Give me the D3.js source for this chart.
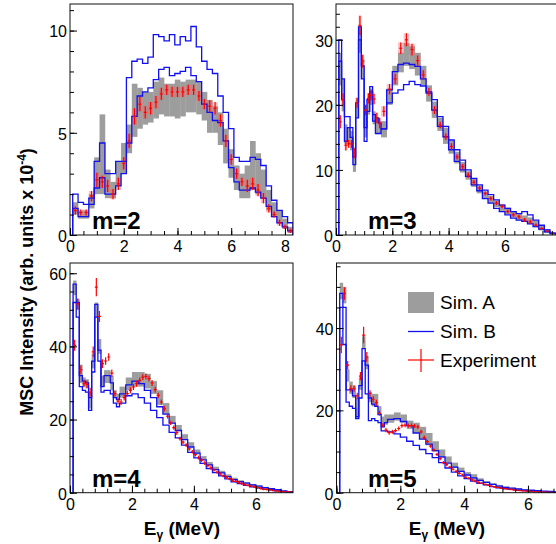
<!DOCTYPE html>
<html>
<head>
<meta charset="utf-8">
<script src="https://cdn.jsdelivr.net/npm/d3@7"></script>
<style>
  body { margin: 0; background: #fff; }
  svg { display: block; font-family: "Liberation Sans", Arial, Helvetica, sans-serif; }
</style>
</head>
<body>
<div id="chart"></div>
<script>
// ---- labels ----
const panelLabels = ["m=2", "m=3", "m=4", "m=5"];
const legendLabels = ["Sim. A", "Sim. B", "Experiment"];
const yTitleText = "MSC Intensity (arb. units x 10";
const yTitleExp = "-4";

// ---- tick labels ----
const xTicksM2 = [0, 2, 4, 6, 8];
const xTicksM3 = [0, 2, 4, 6];
const xTicksM4 = [0, 2, 4, 6];
const xTicksM5 = [0, 2, 4, 6];
const yTicksM2 = [0, 5, 10];
const yTicksM3 = [0, 10, 20, 30];
const yTicksM4 = [0, 20, 40, 60];
const yTicksM5 = [0, 20, 40];

// ---- bin edges (MeV) ----
const edgesM2 = [0.1,0.3,0.5,0.7,0.9,1.1,1.3,1.5,1.7,1.9,2.1,2.3,2.5,2.7,2.9,3.1,3.3,3.5,3.7,3.9,4.1,
  4.3,4.5,4.7,4.9,5.1,5.3,5.5,5.7,5.9,6.1,6.3,6.5,6.7,6.9,7.1,7.3,7.5,7.7,7.9,8.1,8.3];
const lowEdges = [0.1,0.2,0.3,0.4,0.5,0.6,0.7,0.8,0.9,1.0,1.1,1.2,1.3,1.4,1.5];
const tailEdges = [1.6,1.8,2.0,2.2,2.4,2.6,2.8,3.0,3.2,3.4,3.6,3.8,4.0,4.2,4.4,4.6,4.8,5.0,5.2,5.4,
  5.6,5.8,6.0,6.2,6.4,6.6,6.8,7.0,7.2,7.4,7.6,7.8];
const edgesM3 = lowEdges.concat(tailEdges);
const edgesM4 = lowEdges.concat(tailEdges.slice(0, 29));
const edgesM5 = lowEdges.concat(tailEdges.slice(0, 28));

// ---- m=2 ----
const simALoM2 = [1.0,0.8,0.8,1.3,2.0,2.0,1.8,1.8,2.4,3.0,4.0,4.8,5.2,5.4,5.5,5.7,5.9,5.8,5.8,5.7,
  5.8,6.0,6.0,5.9,5.6,5.0,5.0,4.4,3.5,2.8,2.2,1.8,1.8,2.2,2.0,1.8,1.2,0.9,0.6,0.3,0.1];
const simAHiM2 = [1.6,1.2,1.2,2.0,3.8,5.9,3.2,2.6,3.6,4.5,5.4,7.4,7.2,7.0,7.0,7.5,7.7,7.4,7.4,7.6,
  7.5,7.6,7.6,7.5,7.0,6.6,6.3,6.0,5.2,4.2,3.4,3.0,3.4,4.6,4.0,3.2,2.2,1.6,1.2,0.8,0.4];
const simB1M2 = [2.0,1.6,1.5,1.8,3.6,4.5,3.0,3.0,3.6,3.6,7.7,8.5,8.6,8.4,8.7,9.8,9.7,9.5,9.8,9.3,
  9.7,9.5,10.2,9.2,8.5,8.1,7.9,6.8,6.0,5.2,3.8,3.6,3.6,3.8,3.7,3.4,2.4,1.7,1.2,0.9,0.6];
const simB2M2 = [1.3,0.9,0.9,1.5,2.3,2.8,2.0,2.0,2.4,3.0,4.5,5.8,6.8,7.0,7.2,7.6,8.1,8.2,7.8,7.9,
  8.0,8.2,7.8,7.5,6.4,6.0,5.6,5.5,4.6,3.3,2.6,2.2,2.2,2.3,2.1,1.8,1.4,0.9,0.6,0.4,0.2];
const expM2 = [1.2,1.1,1.1,1.9,2.7,2.6,2.4,2.0,2.5,3.5,4.6,5.8,6.4,6.0,6.2,6.5,6.9,7.1,7.0,7.0,
  7.0,7.1,7.1,6.8,6.4,6.3,6.2,5.6,4.6,3.7,3.0,2.6,2.4,2.5,2.2,1.8,1.3,1.0,0.6,0.4,0.2];
const errM2 = [0.2,0.15,0.15,0.25,0.35,0.3,0.3,0.25,0.3,0.3,0.35,0.4,0.35,0.3,0.3,0.3,0.3,0.25,0.25,0.25,
  0.25,0.25,0.25,0.25,0.25,0.3,0.3,0.3,0.3,0.25,0.25,0.2,0.3,0.3,0.3,0.25,0.2,0.15,0.15,0.1,0.1];

// ---- m=3 ----
const simALoM3 = [23,19,14,14,13,9.7,18,28,24,15,18.5,20,17,15.5,15.5,
  15,20,23,25,26,25.5,24.5,23,20.5,18,16,14,12.5,11,9.6,8.5,7.4,6.4,5.6,4.9,4.3,3.7,3.2,2.7,2.3,2.0,1.7,1.2,0.7,0.3,0.1];
const simAHiM3 = [28,24,17,16.5,16,12,21,32,27,20,21,22.5,19,18,17.5,
  17.5,22.5,26,28,29.5,29,28,26,23,20.5,18,16.5,14.5,12.8,11.2,9.8,8.6,7.6,6.7,6.0,5.3,4.7,4.2,3.6,3.2,3.0,2.7,2.2,1.5,0.9,0.4];
const simB1M3 = [30,20.8,14.4,16.5,15.0,10.8,20.3,32,26,14.4,20.8,22.8,18.5,15.6,15.6,
  16.3,22.3,25.1,26.2,26.4,26.2,25.9,24.0,21.8,19.2,16.7,15.1,13.1,11.3,10.0,9.0,7.7,6.8,5.6,4.9,4.1,3.6,3.1,2.6,2.3,2.1,1.7,1.3,0.9,0.5,0.2];
const simB2M3 = [26.7,24,18.2,18.2,16.5,12.0,18,30,24,16.5,19,22.0,17.5,18.0,17.2,
  16.3,20.3,21.8,22.3,23.1,23.6,23.1,22.9,22.0,20.8,18.2,16.7,14.6,13.1,11.5,10.0,8.7,7.7,6.9,6.2,5.4,4.6,4.1,3.6,3.3,3.6,3.1,2.3,1.5,0.8,0.3];
const expM3 = [17.4,20.8,13.8,14.0,14.0,12.6,20.3,32.2,26.7,19.2,21.0,21.5,20.9,18.0,17.2,
  19.0,22.4,24.0,28.7,30.0,28.5,26.8,24.6,22.0,19.2,16.9,15.1,13.6,12.0,10.5,9.2,8.1,7.2,6.4,5.6,4.9,4.4,3.6,3.1,2.8,2.3,2.0,1.5,1.0,0.6,0.3];
const errM3 = [1.0,1.0,0.8,0.6,0.6,0.8,0.8,1.5,1.0,0.8,0.8,0.8,0.8,0.8,0.8,
  0.8,0.8,0.8,0.9,1.0,0.9,0.8,0.7,0.6,0.6,0.5,0.5,0.5,0.4,0.4,0.4,0.4,0.3,0.3,0.3,0.3,0.3,0.3,0.3,0.3,0.3,0.3,0.25,0.2,0.15,0.1];

// ---- m=4 ----
const simALoM4 = [54,50,30,29,28.5,23,34,48,38,29,30,30,28,26,25,
  26,28,29,29,28.5,27,24,21.5,19,16.8,14.5,12.5,10.7,9.0,7.5,6.3,5.3,4.4,3.6,3.0,2.5,2.1,1.7,1.3,1.0,0.7,0.4,0.2];
const simAHiM4 = [58,53,35,31.5,31,27.5,38,52,42,32,33.5,33.5,32,28,27,
  29,31.5,33,33,32.5,30.5,28,24.5,21,18.5,16,13.8,11.8,10.0,8.4,7.1,6.0,5.0,4.1,3.4,2.9,2.4,2.0,1.6,1.3,0.9,0.6,0.3];
const simB1M4 = [57,52,32,30.5,30,26,36,51.5,39,29,32,32,30,26,25.5,
  27,29.5,30.5,29.8,28,26,23.5,21.5,19,17,14.5,12.5,10.8,9.0,7.6,6.3,5.4,4.4,3.6,3.0,2.6,2.1,1.8,1.4,1.1,0.8,0.5,0.3];
const simB2M4 = [52,48,29,28,27.5,22.5,33,48,36,27.5,28,28,27,24.5,23.5,
  24.5,26.5,27,26,24.5,22.5,20.5,18.5,16.5,15,13,11,9.5,8,6.6,5.5,4.6,3.8,3.0,2.5,2.0,1.6,1.3,1.0,0.8,0.5,0.3,0.1];
const expEM4 = d3.range(0.15, 7.2, 0.1);
const expM4 = [40.3,51.6,33.6,29.8,29.6,27.5,38.5,56.2,48.2,35.3,36.0,37.1,32.7,27.1,25.0,
  24.8,26.0,27.1,28.0,28.9,29.8,30.7,31.6,31.8,31.2,30.0,28.2,26.6,24.8,23.0,20.9,19.1,17.8,16.4,14.8,
  13.8,13.0,12.0,11.2,10.4,9.6,8.9,8.1,7.4,6.8,6.2,5.6,5.1,4.6,4.2,3.8,3.4,3.1,2.8,2.5,
  2.2,2.0,1.8,1.6,1.4,1.2,1.0,0.9,0.8,0.6,0.5,0.4,0.3,0.25,0.2,0.1];
const errM4 = [1.5,1.5,1.2,1.0,1.0,1.2,1.5,2.5,1.5,1.2,1.0,1.0,1.0,0.8,0.8,
  0.8,0.8,0.8,0.8,0.8,0.8,0.8,0.8,0.8,0.8,0.8,0.8,0.7,0.7,0.7,0.6,0.6,0.6,0.6,0.5,
  0.5,0.5,0.5,0.5,0.5,0.5,0.5,0.5,0.5,0.5,0.4,0.4,0.4,0.4,0.4,0.4,0.4,0.4,0.4,0.4,
  0.3,0.3,0.3,0.3,0.3,0.3,0.3,0.3,0.3,0.3,0.2,0.2,0.2,0.2,0.2,0.2];

// ---- m=5 ----
const simALoM5 = [47,46,27,24,23,18,25,35,30,22,21,21,19,16,16.5,
  17,17.5,17,15.5,14.5,13,11.5,10,8.5,7.2,6.0,5.0,4.2,3.0,2.8,2.3,1.9,1.5,1.2,1.0,0.8,0.6,0.5,0.4,0.3,0.2,0.1];
const simAHiM5 = [51,50,30,27,26,23,28,38,33,24.5,24,24,21,18.5,19,
  19,19.5,19,17.5,17,16,14.5,12.5,10.5,8.8,7.3,6.1,5.0,4.5,3.5,2.8,2.3,1.9,1.5,1.2,1.0,0.8,0.65,0.5,0.4,0.3,0.2];
const simB1M5 = [48.4,45,25,25,23.5,18.5,26,35,31,23,21.5,21,19,16,17,
  17.8,18,17.3,16.3,14.5,13,11.8,10.2,8.7,7.2,6.2,5.2,4.3,3.6,3.0,2.5,2.0,1.6,1.3,1.1,0.9,0.7,0.6,0.5,0.4,0.3,0.2];
const simB2M5 = [45,36,22,21,20.5,18,23,32,24,17.5,18,17.5,17,15,15,
  14.8,14.3,13.5,12.5,11.5,10.5,9.5,8.5,7.3,6.0,5.0,4.1,3.4,2.8,2.3,1.9,1.5,1.2,1.0,0.8,0.6,0.5,0.35,0.25,0.2,0.1,0.05];
const expEM5 = d3.range(0.15, 6.9, 0.1);
const expM5 = [35.9,48.4,31,25.3,25.3,23.5,28.3,38.3,33,24.1,22.7,21.9,19.3,16.4,15.2,
  14.6,14.8,15.1,15.6,16.3,16.4,16.3,16.3,16.2,16.0,14.8,13.4,12.4,11.3,10.4,9.3,8.3,7.3,6.8,6.2,
  5.7,5.2,4.7,4.3,3.8,3.5,3.1,2.8,2.5,2.3,2.0,1.8,1.6,1.4,1.3,1.1,1.0,0.9,0.8,0.7,
  0.6,0.5,0.45,0.4,0.35,0.3,0.25,0.2,0.15,0.12,0.1,0.08,0.05];
const errM5 = [2.0,1.5,1.0,0.8,0.8,0.8,1.0,2.0,1.2,0.8,0.7,0.7,0.6,0.5,0.5,
  0.5,0.5,0.5,0.5,0.5,0.5,0.5,0.5,0.5,0.5,0.5,0.5,0.4,0.4,0.4,0.4,0.4,0.4,0.4,0.3,
  0.3,0.3,0.3,0.3,0.3,0.3,0.3,0.3,0.3,0.2,0.2,0.2,0.2,0.2,0.2,0.2,0.2,0.2,0.2,0.2,
  0.1,0.1,0.1,0.1,0.1,0.1,0.1,0.1,0.1,0.1,0.1,0.1,0.1];

const centers = edges => edges.slice(0, -1).map((e, j) => (e + edges[j + 1]) / 2);

const panels = [
  { label: panelLabels[0], edges: edgesM2, aLo: simALoM2, aHi: simAHiM2, b1: simB1M2, b2: simB2M2,
    expE: centers(edgesM2), exp: expM2, err: errM2, band: true,
    left: 70, right: 293, top: 4, bottom: 235, xMax: 8.3, yMax: 11.3,
    xTicks: xTicksM2, yTicks: yTicksM2, xMinor: 0.5, yMinor: 1, labelX: 92, labelY: 229 },
  { label: panelLabels[1], edges: edgesM3, aLo: simALoM3, aHi: simAHiM3, b1: simB1M3, b2: simB2M3,
    expE: centers(edgesM3), exp: expM3, err: errM3, band: true,
    left: 336, right: 557, top: 4, bottom: 235, xMax: 7.85, yMax: 35.5,
    xTicks: xTicksM3, yTicks: yTicksM3, xMinor: 1 / 3, yMinor: 2, labelX: 368, labelY: 229 },
  { label: panelLabels[2], edges: edgesM4, aLo: simALoM4, aHi: simAHiM4, b1: simB1M4, b2: simB2M4,
    expE: expEM4, exp: expM4, err: errM4, band: false,
    left: 70, right: 293, top: 263, bottom: 492.7, xMax: 7.2, yMax: 62.8,
    xTicks: xTicksM4, yTicks: yTicksM4, xMinor: 0.4, yMinor: 5, labelX: 92, labelY: 487 },
  { label: panelLabels[3], edges: edgesM5, aLo: simALoM5, aHi: simAHiM5, b1: simB1M5, b2: simB2M5,
    expE: expEM5, exp: expM5, err: errM5, band: false,
    left: 336.5, right: 557, top: 263, bottom: 492.7, xMax: 6.91, yMax: 55.8,
    xTicks: xTicksM5, yTicks: yTicksM5, xMinor: 0.4, yMinor: 5, labelX: 368, labelY: 487 }
];

const grayFill = "#9d9d9d", blue = "#1010f0", red = "#ff0000";
const font = '"Liberation Sans", Arial, Helvetica, sans-serif';

const svg = d3.select("#chart").append("svg").attr("width", 556).attr("height", 544);

panels.forEach((p, i) => {
  const x = d3.scaleLinear().domain([0, p.xMax]).range([p.left, p.right]);
  const y = d3.scaleLinear().domain([0, p.yMax]).range([p.bottom, p.top]);

  svg.append("clipPath").attr("id", `clip${i}`)
    .append("rect")
    .attr("x", p.left).attr("y", p.top)
    .attr("width", p.right - p.left).attr("height", p.bottom - p.top);

  const plot = svg.append("g").attr("clip-path", `url(#clip${i})`);
  const bins = p.edges.slice(0, -1).map((e, j) => ({ x0: e, x1: p.edges[j + 1], j }));

  // Sim A band
  plot.append("g").selectAll("rect").data(bins).join("rect")
    .attr("x", d => x(d.x0))
    .attr("width", d => x(d.x1) - x(d.x0) + 0.3)
    .attr("y", d => y(p.aHi[d.j]))
    .attr("height", d => y(p.aLo[d.j]) - y(p.aHi[d.j]))
    .attr("fill", grayFill);

  // experiment systematic band
  if (p.band) {
    plot.append("g").selectAll("rect").data(bins).join("rect")
      .attr("x", d => x(d.x0))
      .attr("width", d => x(d.x1) - x(d.x0))
      .attr("y", d => y(p.exp[d.j] + p.err[d.j]))
      .attr("height", d => y(p.exp[d.j] - p.err[d.j]) - y(p.exp[d.j] + p.err[d.j]))
      .attr("fill", "rgba(255,90,90,0.35)");
  }

  // Sim B histograms
  const line = d3.line().x(d => x(d[0])).y(d => y(d[1]));
  const steps = vals => {
    const pts = [[p.edges[0], 0]];
    vals.forEach((v, j) => pts.push([p.edges[j], v], [p.edges[j + 1], v]));
    pts.push([p.edges[p.edges.length - 1], 0]);
    return pts;
  };
  [p.b1, p.b2].forEach(vals => {
    plot.append("path")
      .attr("d", line(steps(vals)))
      .attr("fill", "none")
      .attr("stroke", blue)
      .attr("stroke-width", 1.3);
  });

  // experiment crosses
  const pts = p.exp.map((v, j) => ({ e: p.expE[j], v, err: p.err[j] }));
  const crosses = plot.append("g").attr("stroke", red).attr("stroke-width", 1.2);
  crosses.selectAll("line.v").data(pts).join("line").attr("class", "v")
    .attr("x1", d => x(d.e)).attr("x2", d => x(d.e))
    .attr("y1", d => y(d.v - d.err)).attr("y2", d => y(d.v + d.err));
  crosses.selectAll("line.h").data(pts).join("line").attr("class", "h")
    .attr("x1", d => x(d.e) - 1.5).attr("x2", d => x(d.e) + 1.5)
    .attr("y1", d => y(d.v)).attr("y2", d => y(d.v));

  // frame
  svg.append("rect")
    .attr("x", p.left).attr("y", p.top)
    .attr("width", p.right - p.left).attr("height", p.bottom - p.top)
    .attr("fill", "none").attr("stroke", "#111").attr("stroke-width", 1);

  // axes: minor ticks
  svg.append("g").attr("transform", `translate(0,${p.bottom})`)
    .call(d3.axisBottom(x).tickValues(d3.range(0, p.xMax, p.xMinor)).tickSize(-4).tickFormat(""))
    .call(g => g.select(".domain").remove());
  svg.append("g").attr("transform", `translate(${p.left},0)`)
    .call(d3.axisLeft(y).tickValues(d3.range(0, p.yMax, p.yMinor)).tickSize(-4).tickFormat(""))
    .call(g => g.select(".domain").remove());

  // axes: major ticks with labels
  const xa = svg.append("g").attr("transform", `translate(0,${p.bottom})`)
    .call(d3.axisBottom(x).tickValues(p.xTicks).tickSize(-7).tickPadding(5.5).tickFormat(d3.format("d")))
    .call(g => g.select(".domain").remove());
  xa.attr("font-size", 16).attr("font-family", font);
  const ya = svg.append("g").attr("transform", `translate(${p.left},0)`)
    .call(d3.axisLeft(y).tickValues(p.yTicks).tickSize(-7).tickPadding(3).tickFormat(d3.format("d")))
    .call(g => g.select(".domain").remove());
  ya.attr("font-size", 16).attr("font-family", font);
  ya.selectAll("text").attr("dy", "0.4em");

  // panel label
  svg.append("text")
    .attr("x", p.labelX).attr("y", p.labelY)
    .attr("font-size", 24).attr("font-weight", "bold")
    .text(p.label);
});

// legend (inside m=5 panel)
const lg = svg.append("g");
lg.append("rect").attr("x", 408).attr("y", 292).attr("width", 26).attr("height", 21).attr("fill", grayFill);
lg.append("line").attr("x1", 408).attr("x2", 434).attr("y1", 331.5).attr("y2", 331.5)
  .attr("stroke", blue).attr("stroke-width", 1.3);
lg.append("line").attr("x1", 408).attr("x2", 434).attr("y1", 360).attr("y2", 360)
  .attr("stroke", red).attr("stroke-width", 1.2);
lg.append("line").attr("x1", 421).attr("x2", 421).attr("y1", 349).attr("y2", 372)
  .attr("stroke", red).attr("stroke-width", 1.2);
lg.selectAll("text").data(legendLabels).join("text")
  .attr("x", 440)
  .attr("y", (d, i) => [309, 338, 367][i])
  .attr("font-size", 19)
  .text(d => d);

// y title
const yt = svg.append("text")
  .attr("transform", "translate(33,282) rotate(-90)")
  .attr("text-anchor", "middle")
  .attr("font-size", 18).attr("font-weight", "bold");
yt.append("tspan").text(yTitleText);
yt.append("tspan").attr("dy", -7).attr("font-size", 12).text(yTitleExp);
yt.append("tspan").attr("dy", 7).text(")");

// x titles
[182, 447].forEach(cx => {
  const xt = svg.append("text")
    .attr("x", cx).attr("y", 535)
    .attr("text-anchor", "middle")
    .attr("font-size", 19).attr("font-weight", "bold");
  xt.append("tspan").text("E");
  xt.append("tspan").attr("dy", 4).attr("font-size", 12).text("γ");
  xt.append("tspan").attr("dy", -4).text(" (MeV)");
});
</script>
</body>
</html>
